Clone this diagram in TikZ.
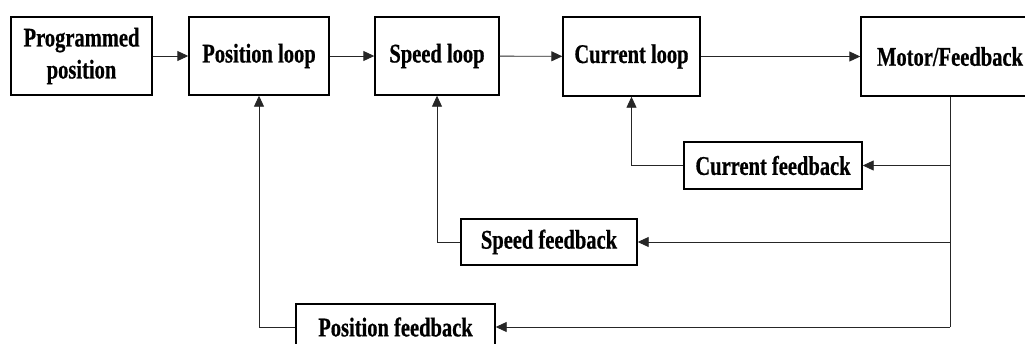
\documentclass[tikz,border=0pt]{standalone}
\usepackage{fontspec}
\setmainfont{Liberation Serif}[FakeStretch=0.76,FakeBold=0.6]
\usetikzlibrary{arrows.meta}
\begin{document}
\begin{tikzpicture}[x=1pt,y=-1pt,
  blk/.style={draw=black,line width=1.4pt,fill=white,inner sep=0pt,
    font=\fontsize{27}{32}\selectfont\bfseries,align=center},
  link/.style={draw=black!85,line width=0.9pt},
  arr/.style={link,-{Triangle[length=11pt,width=10pt]}}]
\useasboundingbox (0,0) rectangle (1025,343);
% forward path
\node[blk,minimum width=141pt,minimum height=78pt] (prog) at (81.5,56) {Programmed\\position};
\node[blk,minimum width=140pt,minimum height=78pt] (posl) at (259,56) {Position loop};
\node[blk,minimum width=124pt,minimum height=78pt] (spdl) at (437,56) {Speed loop};
\node[blk,minimum width=137pt,minimum height=79pt] (curl) at (631.5,56.5) {Current loop};
\node[blk,minimum width=178pt,minimum height=79pt] (motor) at (950,56.5) {Motor/Feedback};
% feedback blocks
\node[blk,minimum width=178pt,minimum height=47pt] (curf) at (773,165.5) {Current feedback};
\node[blk,minimum width=176pt,minimum height=46pt] (spdf) at (549,242) {Speed feedback};
\node[blk,minimum width=199pt,minimum height=46pt] (posf) at (395.5,327) {Position feedback};
% branch points on the motor output line
\coordinate (bc) at (motor.south |- curf.east);
\coordinate (bs) at (motor.south |- spdf.east);
\coordinate (bp) at (motor.south |- posf.east);
% forward arrows
\draw[arr] (prog) -- (posl);
\draw[arr] (posl) -- (spdl);
\draw[arr] (spdl) -- (curl);
\draw[arr] (curl) -- (motor);
% feedback lines
\draw[link] (motor.south) -- (bp);
\draw[arr] (bc) -- (curf.east);
\draw[arr] (bs) -- (spdf.east);
\draw[arr] (bp) -- (posf.east);
\draw[arr] (curf.west) -| (curl.south);
\draw[arr] (spdf.west) -| (spdl.south);
\draw[arr] (posf.west) -| (posl.south);
\end{tikzpicture}
\end{document}
